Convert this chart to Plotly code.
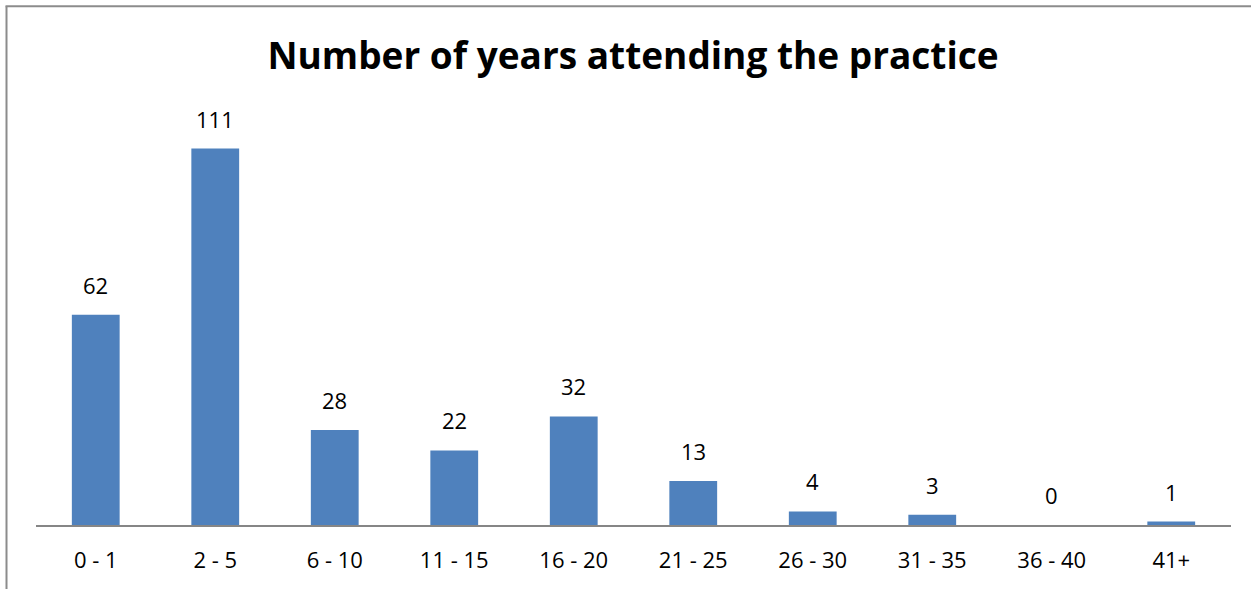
import plotly.graph_objects as go

categories = ["0 - 1", "2 - 5", "6 - 10", "11 - 15", "16 - 20", "21 - 25", "26 - 30", "31 - 35", "36 - 40", "41+"]
counts = [62, 111, 28, 22, 32, 13, 4, 3, 0, 1]
title_text = "Number of years attending the practice"

W, H = 1253, 589
L, R, T, B = 36, 22, 117.5, 64
pw, ph = W - L - R, H - T - B

FONT = "Open Sans"

fig = go.Figure()
fig.add_trace(go.Bar(
    x=categories, y=counts,
    marker=dict(color="#4f81bd", line=dict(width=0)),
    width=0.40,
))

for c, v in zip(categories, counts):
    fig.add_annotation(x=c, y=v, text=str(v), showarrow=False,
                       yanchor="bottom", yshift=13,
                       font=dict(family=FONT, size=22, color="black"))

def px_x(p):
    return (p - L) / pw

def px_y(p):
    return (H - B - p) / ph

border = "#8c8c8c"
fig.add_shape(type="line", xref="paper", yref="paper",
              x0=px_x(6.5), x1=px_x(6.5), y0=px_y(H), y1=px_y(5.5),
              line=dict(color=border, width=2))
fig.add_shape(type="line", xref="paper", yref="paper",
              x0=px_x(5.5), x1=px_x(W - 2), y0=px_y(5.5), y1=px_y(5.5),
              line=dict(color=border, width=2))

fig.update_layout(
    width=W, height=H,
    margin=dict(l=L, r=R, t=T, b=B, pad=0),
    paper_bgcolor="white", plot_bgcolor="white",
    showlegend=False,
    title=dict(text="<b>" + title_text + "</b>", x=(633) / W, xanchor="center",
               y=1 - 56 / H, yanchor="middle",
               font=dict(family=FONT, size=37, color="black")),
    font=dict(family=FONT, size=22, color="black"),
    xaxis=dict(showline=True, linecolor="#868686", linewidth=2, ticks="",
               showgrid=False, tickfont=dict(family=FONT, size=22, color="black"),
               ticklabelstandoff=15),
    yaxis=dict(range=[0, 120], visible=False, showgrid=False, zeroline=False),
)

fig.write_html("out.html", config={"displayModeBar": False})
